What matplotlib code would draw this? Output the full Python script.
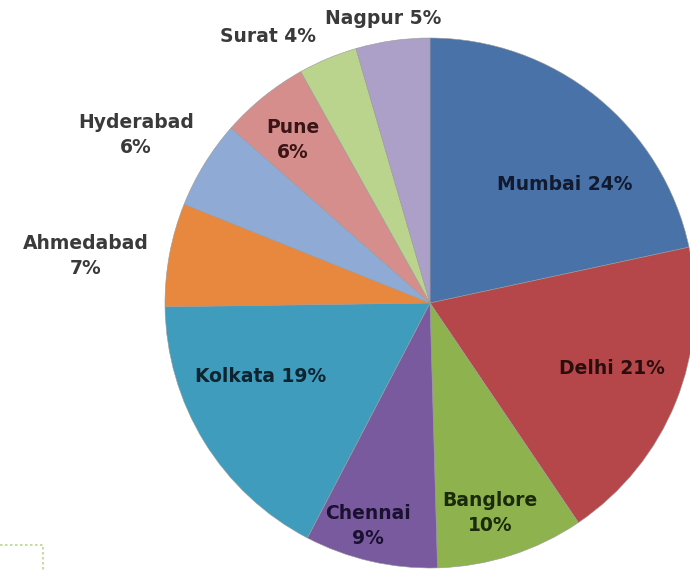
import matplotlib
matplotlib.use("Agg")
import matplotlib.pyplot as plt
from matplotlib.lines import Line2D

cities = ["Mumbai", "Delhi", "Banglore", "Chennai", "Kolkata",
          "Ahmedabad", "Hyderabad", "Pune", "Surat", "Nagpur"]
shares = [24, 21, 10, 9, 19, 7, 6, 6, 4, 5]
label_texts = ["Mumbai 24%", "Delhi 21%", "Banglore\n10%", "Chennai\n9%",
               "Kolkata 19%", "Ahmedabad\n7%", "Hyderabad\n6%", "Pune\n6%",
               "Surat 4%", "Nagpur 5%"]

colors = ["#4872A8", "#B5474A", "#8DB24E", "#7A5A9E", "#3F9CBC",
          "#E8883E", "#8FAAD4", "#D68E8C", "#BAD38D", "#ADA0C8"]
# label positions in pixel coordinates (x, y from top)
label_pos = [(565, 185), (612, 368), (490, 513), (368, 526), (261, 376),
             (86, 256), (136, 135), (293, 140), (268, 36), (383, 18)]
text_colors = ["#111a2e", "#2a0d0d", "#1a2a0a", "#1a1030", "#0e2430",
               "#3a3a3a", "#3a3a3a", "#3a1515", "#3a3a3a", "#3a3a3a"]

W, H = 690, 570
fig = plt.figure(figsize=(W / 100, H / 100), dpi=100)
ax = fig.add_axes([0, 0, 1, 1])

cx, cy, r = 430, H - 303, 265
wedges, _ = ax.pie(shares, colors=colors, startangle=90, counterclock=False,
                   center=(cx, cy), radius=r, frame=True,
                   wedgeprops=dict(edgecolor="#9a9a9a", linewidth=0.4))
ax.set_xlim(0, W)
ax.set_ylim(0, H)
ax.set_aspect("equal")
ax.axis("off")

for txt, (px, py), tc in zip(label_texts, label_pos, text_colors):
    ax.text(px, H - py, txt, ha="center", va="center", fontsize=13.5,
            family="DejaVu Sans", fontweight="bold", color=tc,
            linespacing=1.45)

# small logo artifact at bottom-left
ax.add_line(Line2D([0, 43, 43], [H - 545, H - 545, 0], color="#b9d98a",
                   linestyle=(0, (1.5, 1.5)), linewidth=1.2))

fig.savefig("out.png", dpi=100)
